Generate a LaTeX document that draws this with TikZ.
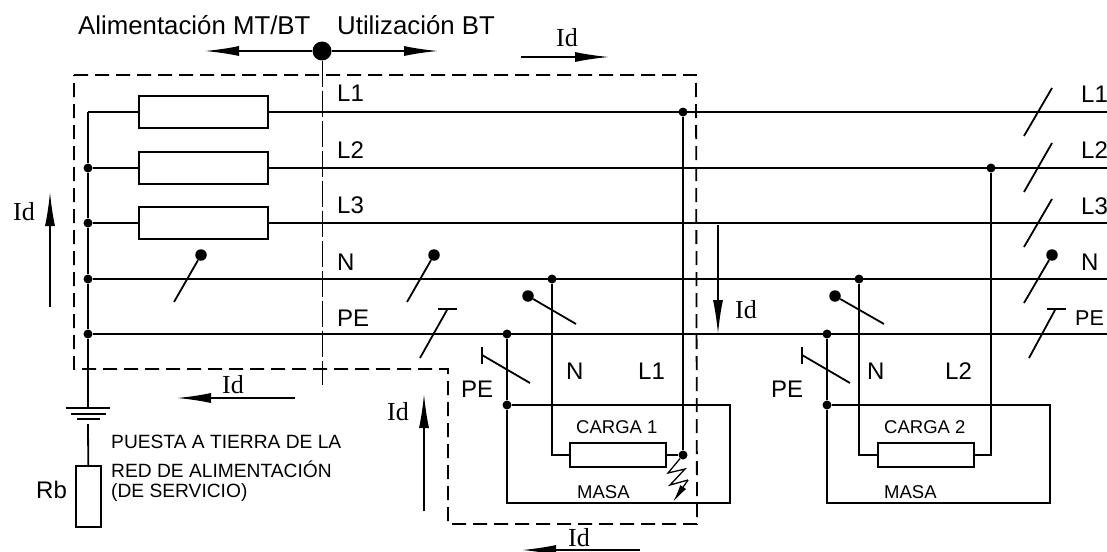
\documentclass[tikz,border=0pt]{standalone}
\usepackage{fontspec}
\setmainfont{Liberation Sans}
\newfontfamily\idfont{Liberation Serif}
\usetikzlibrary{arrows.meta}
\tikzset{
  wire/.style={line width=1.8pt},
  thinwire/.style={line width=1.3pt},
  cut/.style={line width=1.8pt, dash pattern=on 14pt off 7pt},
  divide/.style={line width=1pt, dash pattern=on 26pt off 4pt},
  flow/.style={line width=1.5pt, -{Latex[length=34pt,width=10pt]}},
  dot/.style={circle, fill=black, inner sep=0pt, minimum size=9pt},
  bigdot/.style={circle, fill=black, inner sep=0pt, minimum size=11.5pt},
  fuse/.style={draw, line width=1.8pt, inner sep=0pt, minimum width=129pt, minimum height=32pt},
  load/.style={draw, line width=1.8pt, inner sep=0pt, minimum width=96pt, minimum height=24pt},
  title/.style={inner sep=0pt, anchor=west, font=\fontsize{25.8}{25}\selectfont},
  lab/.style={inner sep=0pt, anchor=west, font=\fontsize{24}{24}\selectfont},
  small/.style={inner sep=0pt, anchor=west, font=\fontsize{18.5}{18}\selectfont},
  note/.style={inner sep=0pt, anchor=west, font=\fontsize{19.2}{19}\selectfont},
  idlab/.style={inner sep=0pt, font=\idfont\fontsize{26}{26}\selectfont},
}
\begin{document}
\begin{tikzpicture}[x=1pt, y=-1pt]
\useasboundingbox (0,0) rectangle (1107,551);
% titles
\node[title] (tfeed) at (78,25) {Alimentación MT/BT};
\node[title] (tuse) at (337,25) {Utilización BT};
\node[bigdot, minimum size=19pt] (split) at (322,51) {};
\coordinate (splitl) at (205,51);
\coordinate (splitr) at (438,51);
\draw[flow] (split) -- (splitl);
\draw[flow] (split) -- (splitr);
% fault loop
\coordinate (c1) at (74,75);
\coordinate (c2) at (696,75);
\coordinate (c3) at (697,524);
\coordinate (c4) at (448,524);
\coordinate (c5) at (448,369);
\coordinate (c6) at (74,369);
\draw[cut] (c1) -- (c2) -- (c3) -- (c4) -- (c5) -- (c6) -- cycle;
\coordinate (divb) at (322,385);
\draw[divide] (split) -- (divb);
% bus
\coordinate (bus1) at (88,112);
\node[dot] (bus2) at (88,168) {};
\node[dot] (bus3) at (88,223) {};
\node[dot] (bus4) at (88,279) {};
\node[dot] (bus5) at (88,334) {};
\coordinate (gnd) at (88,408);
\draw[wire] (bus1) -- (bus2) -- (bus3) -- (bus4) -- (bus5) -- (gnd);
\node[fuse] (f1) at (203.5,112) {};
\node[fuse] (f2) at (203.5,168) {};
\node[fuse] (f3) at (203.5,223) {};
\coordinate (e1) at (1107,112);
\coordinate (e2) at (1107,168);
\coordinate (e3) at (1107,223);
\coordinate (e4) at (1107,279);
\coordinate (e5) at (1107,334);
\draw[wire] (bus1) -- (f1);
\draw[wire] (bus2) -- (f2);
\draw[wire] (bus3) -- (f3);
\draw[wire] (f1) -- (e1);
\draw[wire] (f2) -- (e2);
\draw[wire] (f3) -- (e3);
\draw[wire] (bus4) -- (e4);
\draw[wire] (bus5) -- (e5);
\node[lab] (l1a) at (337,93) {L1};
\node[lab] (l2a) at (337,150) {L2};
\node[lab] (l3a) at (337,205) {L3};
\node[lab] (na) at (337,262) {N};
\node[lab] (pea) at (337,318) {PE};
\node[lab] (l1b) at (1081,94) {L1};
\node[lab] (l2b) at (1081,150) {L2};
\node[lab] (l3b) at (1081,206) {L3};
\node[lab] (nb) at (1081,262) {N};
\node[lab, font=\fontsize{21.5}{21}\selectfont] (peb) at (1075,318) {PE};
% neutral marks
\node[bigdot] (m1) at (201,255) {};
\coordinate (m1e) at (174,302);
\draw[wire] (m1) -- (m1e);
\node[bigdot] (m2) at (434,255) {};
\coordinate (m2e) at (407,302);
\draw[wire] (m2) -- (m2e);
\node[bigdot] (m3) at (1052,255) {};
\coordinate (m3e) at (1024,303);
\draw[wire] (m3) -- (m3e);
% pe marks
\coordinate (p1a) at (447,310);
\coordinate (p1b) at (420,358);
\coordinate (p1c) at (438,309);
\coordinate (p1d) at (457,309);
\draw[wire] (p1a) -- (p1b);
\draw[wire] (p1c) -- (p1d);
\coordinate (p2a) at (1055,310);
\coordinate (p2b) at (1029,358);
\coordinate (p2c) at (1047,309);
\coordinate (p2d) at (1066,309);
\draw[wire] (p2a) -- (p2b);
\draw[wire] (p2c) -- (p2d);
% phase marks
\coordinate (t1a) at (1052,88);
\coordinate (t1b) at (1024,136);
\coordinate (t2a) at (1052,143);
\coordinate (t2b) at (1024,192);
\coordinate (t3a) at (1052,199);
\coordinate (t3b) at (1024,247);
\draw[wire] (t1a) -- (t1b);
\draw[wire] (t2a) -- (t2b);
\draw[wire] (t3a) -- (t3b);
% load 1
\node[dot] (pe1) at (507,334) {};
\node[dot] (pe1m) at (507,405) {};
\node[dot] (n1) at (552,279) {};
\node[dot] (l1) at (683,112) {};
\node[load] (load1) at (618,455) {};
\node[dot] (l1f) at (683,455) {};
\coordinate (n1c) at (552,455);
\coordinate (b1a) at (730,405);
\coordinate (b1b) at (730,503);
\coordinate (b1c) at (507,503);
\draw[wire] (pe1) -- (pe1m) -- (b1a) -- (b1b) -- (b1c) -- (pe1m);
\draw[wire] (n1) -- (n1c) -- (load1);
\draw[wire] (load1) -- (l1f);
\draw[wire, line width=2.2pt] (l1) -- (l1f);
\node[bigdot] (s1) at (528,296) {};
\coordinate (s1e) at (576,324);
\draw[wire] (s1) -- (s1e);
\coordinate (q1a) at (482,355);
\coordinate (q1b) at (530,383);
\coordinate (q1c) at (482,347);
\coordinate (q1d) at (482,364);
\draw[wire] (q1a) -- (q1b);
\draw[wire] (q1c) -- (q1d);
\coordinate (z1) at (668,473);
\coordinate (z2) at (685,469);
\coordinate (z3) at (670,485);
\coordinate (z4) at (688,480);
\coordinate (z5) at (673,502);
\draw[thinwire] (l1f) -- (z1) -- (z2) -- (z3) -- (z4);
\draw[thinwire, -{Latex[length=18pt,width=7pt]}] (z4) -- (z5);
\node[lab] (n1t) at (566,371) {N};
\node[lab] (l1t) at (638,371) {L1};
\node[lab] (pe1t) at (461,389) {PE};
\node[small] (load1t) at (576,427) {CARGA 1};
\node[small] (mass1) at (577,492) {MASA};
% load 2
\node[dot] (pe2) at (827,334) {};
\node[dot] (pe2m) at (827,405) {};
\node[dot] (n2) at (859,279) {};
\node[dot] (l2) at (991,168) {};
\node[load] (load2) at (926,455) {};
\coordinate (n2c) at (859,455);
\coordinate (l2c) at (991,455);
\coordinate (b2a) at (1050,405);
\coordinate (b2b) at (1050,503);
\coordinate (b2c) at (827,503);
\draw[wire] (pe2) -- (pe2m) -- (b2a) -- (b2b) -- (b2c) -- (pe2m);
\draw[wire] (n2) -- (n2c) -- (load2);
\draw[wire] (load2) -- (l2c) -- (l2);
\node[bigdot] (s2) at (835,296) {};
\coordinate (s2e) at (884,324);
\draw[wire] (s2) -- (s2e);
\coordinate (q2a) at (802,355);
\coordinate (q2b) at (850,383);
\coordinate (q2c) at (802,347);
\coordinate (q2d) at (802,364);
\draw[wire] (q2a) -- (q2b);
\draw[wire] (q2c) -- (q2d);
\node[lab] (n2t) at (867,371) {N};
\node[lab] (l2t) at (945,371) {L2};
\node[lab] (pe2t) at (771,389) {PE};
\node[small] (load2t) at (884,427) {CARGA 2};
\node[small] (mass2) at (884,492) {MASA};
% earth
\coordinate (g1a) at (66,408);
\coordinate (g1b) at (110,408);
\coordinate (g2a) at (71,414);
\coordinate (g2b) at (106,414);
\coordinate (g3a) at (77,419);
\coordinate (g3b) at (100,419);
\coordinate (g4) at (88,424);
\draw[wire] (g1a) -- (g1b);
\draw[wire] (g2a) -- (g2b);
\draw[wire] (g3a) -- (g3b);
\node[draw, line width=1.8pt, inner sep=0pt, minimum width=25pt, minimum height=61pt] (rb) at (88.5,496.5) {};
\draw[wire] (g4) -- (rb);
\node[lab] (rbt) at (36,490) {Rb};
\node[note] (e1t) at (111,442) {PUESTA A TIERRA DE LA};
\node[note] (e2t) at (111,469) {RED DE ALIMENTACIÓN};
\node[note] (e3t) at (111,493) {(DE SERVICIO)};
% currents
\node[idlab] (id1) at (567,38) {Id};
\coordinate (i1a) at (521,57);
\coordinate (i1b) at (609,57);
\draw[flow] (i1a) -- (i1b);
\node[idlab] (id2) at (24,212) {Id};
\coordinate (i2a) at (50,307);
\coordinate (i2b) at (50,192);
\draw[flow] (i2a) -- (i2b);
\node[idlab] (id3) at (746,310) {Id};
\coordinate (i3a) at (718,225);
\coordinate (i3b) at (718,334);
\draw[flow] (i3a) -- (i3b);
\node[idlab] (id4) at (233,385) {Id};
\coordinate (i4a) at (295,398);
\coordinate (i4b) at (177,398);
\draw[flow] (i4a) -- (i4b);
\node[idlab] (id5) at (398,412) {Id};
\coordinate (i5a) at (424,511);
\coordinate (i5b) at (424,394);
\draw[flow] (i5a) -- (i5b);
\node[idlab] (id6) at (579,538) {Id};
\coordinate (i6a) at (640,550);
\coordinate (i6b) at (522,550);
\draw[flow] (i6a) -- (i6b);
\end{tikzpicture}
\end{document}
